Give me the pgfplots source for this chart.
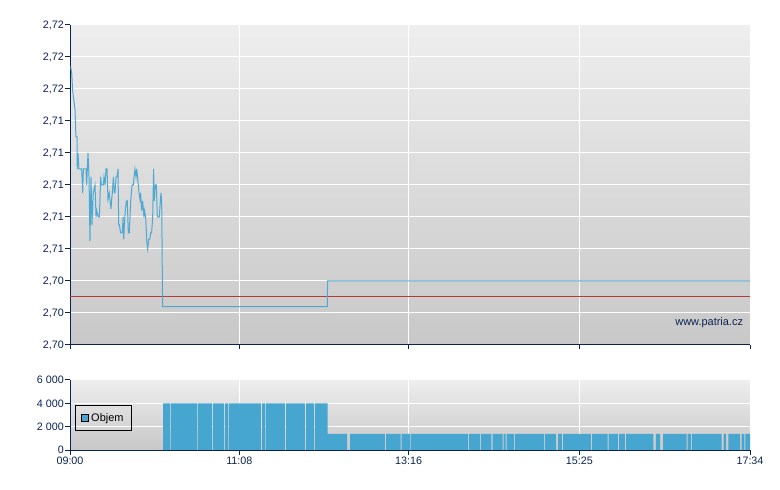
\documentclass[border=0pt]{standalone}
\usepackage{pgfplots}
\pgfplotsset{compat=1.18}
\usepackage{fontspec}
\setmainfont{Liberation Sans}
\definecolor{navy}{RGB}{10,35,85}
\definecolor{lineblue}{RGB}{78,168,210}
\definecolor{barblue}{RGB}{70,166,207}
\definecolor{refred}{RGB}{185,55,55}
\definecolor{bgtop}{RGB}{238,238,238}
\definecolor{bgbot}{RGB}{200,200,200}
\pgfplotsset{
  chartstyle/.style={
    scale only axis,
    width=680bp,
    xmin=0, xmax=514,
    xtick={0,128,256,385,514},
    axis x line*=bottom,
    axis y line*=left,
    axis line style={navy, line width=1bp, -},
    tick align=outside,
    major tick length=4.5bp,
    tick style={navy, line width=1bp},
    grid=major,
    major grid style={white, line width=1bp},
    axis background/.style={top color=bgtop, bottom color=bgbot},
    tick label style={font=\fontsize{10.8}{12}\selectfont, text=navy},
    yticklabel style={inner sep=1.5bp},
    xticklabel style={inner sep=2bp},
  }
}
\begin{document}
\begin{tikzpicture}
\path[use as bounding box] (0,0) rectangle (780bp,490bp);
% price chart
\begin{axis}[chartstyle,
  at={(70bp,145bp)}, anchor=south west,
  height=320bp,
  ymin=2.700, ymax=2.720,
  ytick={2.700,2.702,2.704,2.706,2.708,2.710,2.712,2.714,2.716,2.718,2.720},
  yticklabels={{2,70},{2,70},{2,70},{2,71},{2,71},{2,71},{2,71},{2,71},{2,72},{2,72},{2,72}},
  xticklabels={},
]
\addplot[refred, line width=1bp] coordinates {(0,2.7030) (514,2.7030)};
\addplot[lineblue, line width=1bp] coordinates {
(0.5,2.7174) (1.3,2.7170) (2.0,2.7159) (3.8,2.7147) (4.5,2.7130) (5.3,2.7130)
(5.5,2.7110) (6.0,2.7120) (6.8,2.7110) (8.8,2.7110) (9.6,2.7095) (10.1,2.7110)
(12.1,2.7110) (12.6,2.7100) (13.1,2.7110) (13.6,2.7120) (14.4,2.7105) (15.1,2.7065)
(15.9,2.7105) (16.6,2.7075) (17.6,2.7095) (18.9,2.7100) (19.7,2.7080) (20.2,2.7084)
(21.4,2.7080) (22.2,2.7080) (23.2,2.7105) (23.7,2.7100) (25.2,2.7100) (25.7,2.7105)
(26.5,2.7100) (27.2,2.7110) (28.0,2.7110) (28.7,2.7091) (29.7,2.7095) (30.2,2.7091)
(31.0,2.7085) (31.5,2.7091) (32.0,2.7095) (32.8,2.7105) (33.5,2.7095) (34.0,2.7095)
(34.8,2.7105) (35.5,2.7105) (36.3,2.7110) (36.8,2.7075) (37.3,2.7075) (38.3,2.7070)
(39.6,2.7070) (40.1,2.7080) (40.6,2.7066) (41.1,2.7075) (41.8,2.7084) (42.6,2.7090)
(43.3,2.7090) (44.1,2.7070) (44.8,2.7070) (45.9,2.7090) (46.9,2.7100) (47.9,2.7100)
(48.4,2.7105) (49.1,2.7110) (49.9,2.7105) (50.4,2.7110) (51.1,2.7105) (52.2,2.7095)
(52.9,2.7091) (53.4,2.7095) (54.2,2.7084) (54.9,2.7090) (55.9,2.7080) (56.4,2.7084)
(57.2,2.7080) (58.0,2.7065) (58.7,2.7060) (59.5,2.7066) (60.2,2.7066) (61.0,2.7070)
(61.7,2.7070) (62.5,2.7080) (63.2,2.7110) (63.7,2.7090) (64.5,2.7100) (65.3,2.7100)
(66.0,2.7080) (66.8,2.7080) (67.5,2.7080) (68.3,2.7090) (68.8,2.7095) (69.3,2.7090)
(70.0,2.7024) (194.5,2.7024) (194.7,2.7040) (514,2.7040)
};
\node[anchor=east, font=\fontsize{11}{13}\selectfont, text=navy, inner sep=0pt]
  at (rel axis cs:0.99,0.069) {www.patria.cz};
\end{axis}
% volume chart
\begin{axis}[chartstyle,
  at={(70bp,40bp)}, anchor=south west,
  height=70bp,
  ymin=0, ymax=6000,
  ytick={0,2000,4000,6000},
  yticklabels={0,{2 000},{4 000},{6 000}},
  xticklabels={09:00,11:08,13:16,15:25,17:34},
  legend style={at={(rel axis cs:0.0074,0.643)}, anchor=north west,
    draw=black, line width=0.8bp, fill=none, text=black,
    font=\fontsize{11}{12}\selectfont,
    inner xsep=6bp, inner ysep=6bp},
  legend image code/.code={\draw[fill=barblue, draw=black, line width=0.8bp] (0bp,-3.5bp) rectangle (7bp,3.5bp);},
]
\addplot[const plot, fill=barblue, draw=none] coordinates {
(0,0) (70.30,4000) (75.59,0) (76.34,4000) (96.00,0) (96.75,4000)
(107.33,0) (108.09,4000) (116.40,0) (117.16,4000) (119.43,0) (120.18,4000)
(144.37,0) (145.13,4000) (147.40,0) (148.15,4000) (162.51,0) (163.27,4000)
(177.63,0) (178.39,4000) (184.44,0) (185.20,4000) (194.80,1380)
(209.38,0) (211.65,1380) (238.10,0) (238.86,1380) (249.82,0) (250.58,1380)
(257.00,0) (257.75,1380) (300.84,0) (301.60,1380) (309.91,0) (310.67,1380)
(318.60,0) (319.36,1380) (326.92,0) (327.68,1380) (329.34,0) (330.10,1380)
(335.61,0) (336.37,1380) (358.29,0) (359.05,1380) (367.36,0) (368.87,1380)
(371.89,0) (372.65,1380) (393.81,0) (394.57,1380) (406.29,0) (407.04,1380)
(414.22,0) (414.98,1380) (419.51,0) (420.27,1380) (440.91,0) (442.94,1380)
(445.97,0) (448.24,1380) (466.00,0) (466.76,1380) (469.41,0) (470.16,1380)
(492.61,0) (494.12,1380) (495.86,0) (497.60,1380) (506.44,0) (507.72,1380)
(509.69,0) (510.45,1380) (514,1380)
} \closedcycle;
\addlegendentry{Objem}
\end{axis}
\end{tikzpicture}
\end{document}
